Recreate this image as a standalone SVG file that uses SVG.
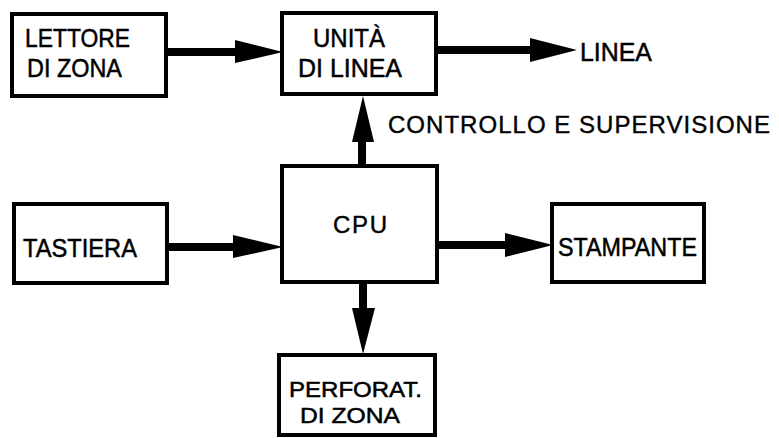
<svg xmlns="http://www.w3.org/2000/svg" width="779" height="438" viewBox="0 0 779 438">
<style>
.box{fill:#fff;stroke:#000;stroke-width:4}
.t{font-family:"Liberation Sans",Arial,sans-serif;font-size:26px;fill:#000;stroke:#000;stroke-width:0.5}
.p{font-family:"Liberation Sans",Arial,sans-serif;font-size:22px;fill:#000;stroke:#000;stroke-width:0.5}
.s{font-family:"Liberation Sans",Arial,sans-serif;font-size:24px;fill:#000;stroke:#000;stroke-width:0.4}
.ln{stroke:#000;stroke-width:8;fill:none}
.hd{fill:#000}
</style>
<rect width="779" height="438" fill="#fff"/>
<g id="connectors">
<line class="ln" x1="167" y1="52" x2="240" y2="52"/>
<polygon class="hd" points="235,40 283,52 235,63"/>
<line class="ln" x1="436" y1="50" x2="535" y2="50"/>
<polygon class="hd" points="530,38 577,50 530,62"/>
<line class="ln" x1="362" y1="166" x2="362" y2="135"/>
<polygon class="hd" points="352,142 374,142 363,96"/>
<line class="ln" x1="167" y1="247" x2="240" y2="247"/>
<polygon class="hd" points="233,235 283,247 233,258"/>
<line class="ln" x1="437" y1="245" x2="510" y2="245"/>
<polygon class="hd" points="505,233 553,245 505,257"/>
<line class="ln" x1="363" y1="282" x2="363" y2="312"/>
<polygon class="hd" points="352,308 375,308 363,354"/>
</g>
<g id="lettore">
<rect class="box" x="12" y="14" width="154" height="82"/>
<text class="t"><tspan x="25" y="47" textLength="105" lengthAdjust="spacingAndGlyphs">LETTORE</tspan><tspan x="27" y="77" textLength="95" lengthAdjust="spacingAndGlyphs">DI ZONA</tspan></text>
</g>
<g id="unita">
<rect class="box" x="282" y="13" width="154" height="81"/>
<text class="t"><tspan x="313" y="47" textLength="72" lengthAdjust="spacingAndGlyphs">UNITÀ</tspan><tspan x="298" y="77" textLength="104" lengthAdjust="spacingAndGlyphs">DI LINEA</tspan></text>
</g>
<g id="linea">
<text class="t" x="580" y="61" textLength="72" lengthAdjust="spacingAndGlyphs">LINEA</text>
</g>
<g id="controllo">
<text class="s" x="388" y="133" textLength="382" lengthAdjust="spacing">CONTROLLO E SUPERVISIONE</text>
</g>
<g id="cpu">
<rect class="box" x="282" y="166" width="155" height="116"/>
<text class="s" x="333" y="233" textLength="54" lengthAdjust="spacing">CPU</text>
</g>
<g id="tastiera">
<rect class="box" x="14" y="204" width="153" height="79"/>
<text class="t" x="23" y="257" textLength="114" lengthAdjust="spacingAndGlyphs">TASTIERA</text>
</g>
<g id="stampante">
<rect class="box" x="552" y="204" width="152" height="78"/>
<text class="t" x="558" y="256" textLength="139" lengthAdjust="spacingAndGlyphs">STAMPANTE</text>
</g>
<g id="perforat">
<rect class="box" x="279" y="355" width="156" height="80"/>
<text class="p"><tspan x="289" y="397" textLength="133" lengthAdjust="spacingAndGlyphs">PERFORAT.</tspan><tspan x="300" y="423" textLength="100" lengthAdjust="spacingAndGlyphs">DI ZONA</tspan></text>
</g>
</svg>
